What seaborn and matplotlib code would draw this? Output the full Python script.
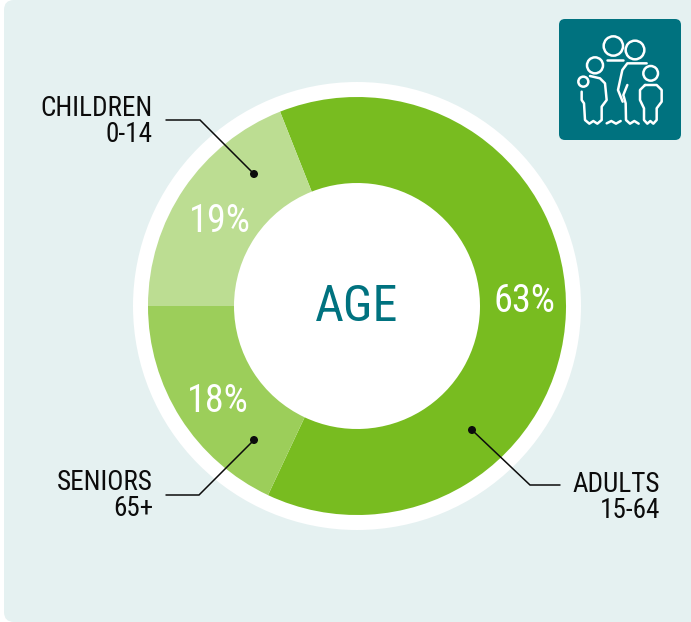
import matplotlib
matplotlib.use("Agg")
import matplotlib.pyplot as plt
import matplotlib.font_manager as fm
from matplotlib.patches import FancyBboxPatch, Circle
import seaborn as sns

sns.set_theme(style="white")
installed = {f.name for f in fm.fontManager.ttflist}
candidates = ['Roboto Condensed', 'Sofia Sans Condensed', 'Saira SemiCondensed', 'Roboto']
plt.rcParams['font.family'] = [c for c in candidates if c in installed] + ['DejaVu Sans']

# data
segments = ["ADULTS", "SENIORS", "CHILDREN"]
shares = [63, 18, 19]
pct_labels = ["63%", "18%", "19%"]
colors = sns.color_palette(["#78bc20", "#9cce5a", "#bcdd92"])

PANEL = "#e5f1f1"
TEAL = "#00727f"
INK = "#0c0c0c"
CX, CY = 357, 306
R_OUT, R_IN, R_RING = 209, 123, 224

fig = plt.figure(figsize=(6.91, 6.22), dpi=100, facecolor="white")
ax = fig.add_axes([0, 0, 1, 1])
ax.add_patch(FancyBboxPatch((14, 10), 690, 602, boxstyle="round,pad=10,rounding_size=10",
                            fc=PANEL, ec="none", zorder=0))
ax.add_patch(Circle((CX, CY), R_RING, fc="white", ec="none", zorder=1))
wedges, _ = ax.pie(shares, colors=colors, center=(CX, CY), radius=R_OUT,
                   startangle=-111.6, counterclock=True, frame=True,
                   wedgeprops=dict(width=R_OUT - R_IN, linewidth=0, zorder=2))
ax.set_xlim(0, 691)
ax.set_ylim(622, 0)
ax.set_aspect("equal")
ax.axis("off")

ax.text(CX, 307, "AGE", color=TEAL, fontsize=36, ha="center", va="center", zorder=5)
for label, (x, y) in zip(pct_labels, [(525, 302), (218, 401), (220, 221)]):
    ax.text(x, y, label, color="white", fontsize=27.5, ha="center", va="center", zorder=5)

# leaders
for xs, ys in [([166, 200, 254], [120, 120, 174]),
               ([166, 199, 254], [495, 495, 440]),
               ([560, 530, 472], [485, 485, 430])]:
    ax.plot(xs, ys, color=INK, lw=1.1, zorder=6, solid_joinstyle="miter")
    ax.add_patch(Circle((xs[-1], ys[-1]), 4, fc=INK, ec="none", zorder=6))

for x, y1, y2, top, bottom in [(153, 109, 135, "CHILDREN", "0-14"),
                               (153, 482, 508, "SENIORS", "65+"),
                               (660, 485, 511, "ADULTS", "15-64")]:
    ax.text(x, y1, top, color=INK, fontsize=19.5, ha="right", va="center", zorder=6)
    ax.text(x, y2, bottom, color=INK, fontsize=19.5, ha="right", va="center", zorder=6)

# icon
ax.add_patch(FancyBboxPatch((565, 25), 110, 109, boxstyle="round,pad=6,rounding_size=6",
                            fc=TEAL, ec="none", zorder=3))
def zx(v): return 540 + v / 3
def zy(v): return v / 3
for cx, cy, r in [(220, 138, 29), (285, 150, 28), (165, 196, 24), (130, 245, 15), (332, 220, 22)]:
    ax.add_patch(Circle((zx(cx), zy(cy)), r / 3, fc="none", ec="white", lw=1.8, zorder=4))
icon_paths = [
    [(200, 180), (250, 180)],
    [(150, 228), (180, 235), (195, 250), (200, 300), (185, 320), (185, 360), (172, 371), (160, 363),
     (148, 371), (135, 360), (132, 310), (125, 300), (125, 275)],
    [(320, 190), (262, 190), (247, 210), (234, 270), (248, 305)],
    [(262, 255), (250, 285), (257, 310), (258, 360), (270, 371), (283, 363), (296, 371)],
    [(200, 370), (214, 363), (228, 371), (242, 363)],
    [(315, 255), (350, 255), (365, 270), (365, 305), (350, 325), (350, 360), (340, 371), (331, 363),
     (322, 371), (312, 360), (312, 325), (300, 300), (300, 270), (315, 255)],
]
for pts in icon_paths:
    ax.plot([zx(p[0]) for p in pts], [zy(p[1]) for p in pts], color="white", lw=1.8, zorder=4,
            solid_joinstyle="round", solid_capstyle="round")

fig.savefig("out.png", dpi=100, facecolor="white")
